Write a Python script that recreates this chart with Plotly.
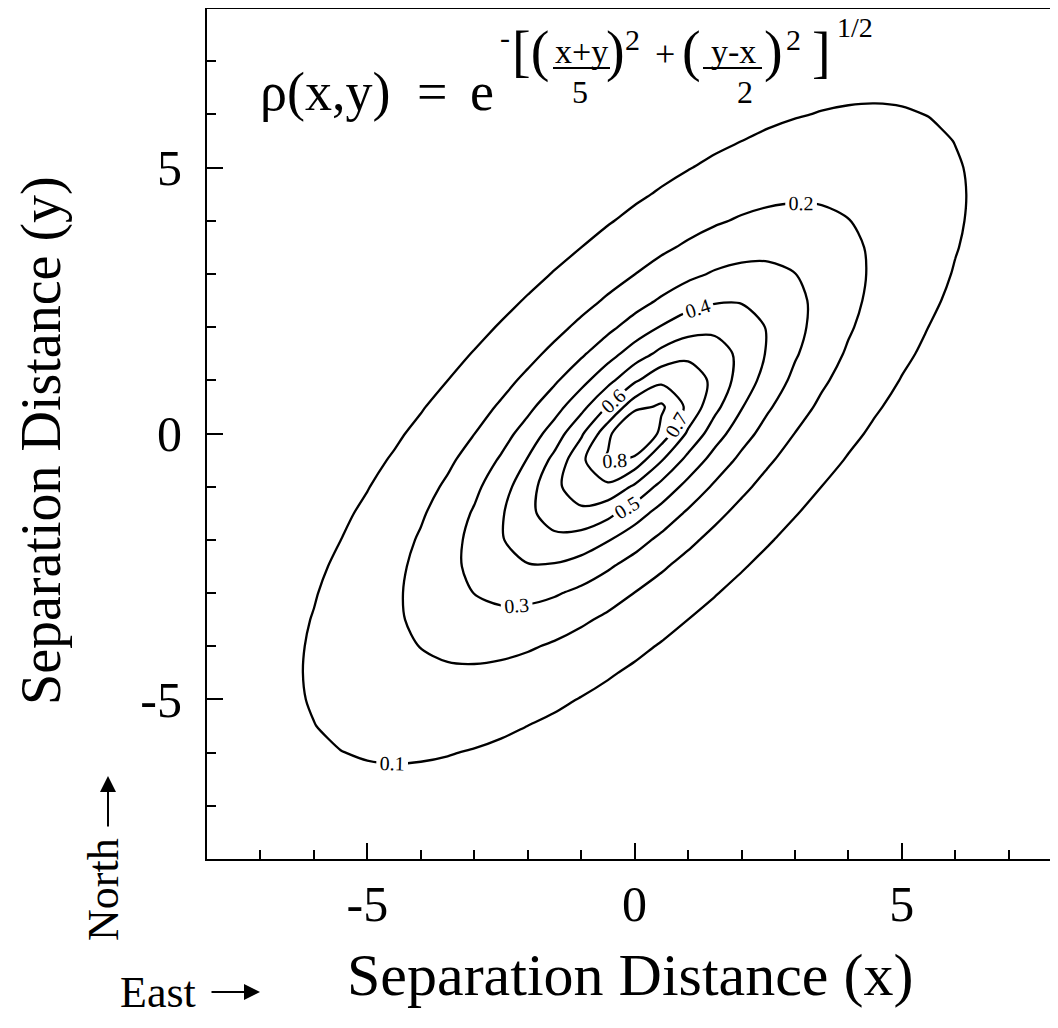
import numpy as np
import plotly.graph_objects as go

# ---- data ----
# grid of separation distances (x and y, same sampling)
grid_x = [-8.0, -7.5, -7.0, -6.5, -6.0, -5.5, -5.0, -4.5, -4.0, -3.5, -3.0, -2.5, -2.0, -1.5,
          -1.0, -0.5, 0.0, 0.5, 1.0, 1.5, 2.0, 2.5, 3.0, 3.5, 4.0, 4.5, 5.0, 5.5, 6.0, 6.5,
          7.0, 7.5, 8.0]
grid_y = list(grid_x)
# correlation length scales printed in the formula: ((x+y)/5)^2 + ((y-x)/2)^2
scale_along = [5.0]
scale_across = [2.0]
# contour levels labelled in the chart
contour_levels = [0.1, 0.2, 0.3, 0.4, 0.5, 0.6, 0.7, 0.8]
# tick labels
tick_vals = [-5, 0, 5]
tick_text = ["-5", "0", "5"]

X, Y = np.meshgrid(np.array(grid_x), np.array(grid_y))
Z = np.exp(-np.sqrt(((X + Y) / scale_along[0]) ** 2 + ((Y - X) / scale_across[0]) ** 2))

FONT = "Liberation Serif"
OFF = 8  # page body margin of the browser
W, H = 1058 - OFF, 1028 - OFF
ML, MR, MT, MB = 207 - OFF, 0, 8 - OFF, 169
PW, PH = W - ML - MR, H - MT - MB


def P(xs, ys):
    """screen pixel -> paper coords"""
    xp, yp = xs - OFF, ys - OFF
    return (xp - ML) / PW, (H - MB - yp) / PH


fig = go.Figure()
fig.add_trace(go.Contour(
    x=grid_x, y=grid_y, z=Z,
    contours=dict(start=contour_levels[0], end=contour_levels[-1],
                  size=round(contour_levels[1] - contour_levels[0], 3),
                  coloring="none", showlabels=True,
                  labelfont=dict(family=FONT, size=20, color="black"),
                  labelformat=".1f"),
    line=dict(color="black", width=2.3, smoothing=0.8),
    showscale=False, hoverinfo="skip",
))

axis_common = dict(
    tickmode="array", tickvals=tick_vals, ticktext=tick_text,
    ticks="inside", ticklen=16, tickwidth=2, tickcolor="black",
    showline=True, linecolor="black", linewidth=2,
    showgrid=False, zeroline=False,
    tickfont=dict(family=FONT, size=50, color="black"),
    minor=dict(tick0=0, dtick=1, ticks="inside", ticklen=9, tickwidth=1.5,
               tickcolor="black", showgrid=False),
)

fig.update_layout(
    width=W, height=H,
    margin=dict(l=ML, r=MR, t=MT, b=MB),
    plot_bgcolor="white", paper_bgcolor="white",
    showlegend=False,
    xaxis=dict(range=[-8, -8 + PW / 53.45], ticklabelstandoff=0, **axis_common),
    yaxis=dict(range=[-8, 8], ticklabelstandoff=13, **axis_common),
)

# top frame line
fig.add_shape(type="line", xref="paper", yref="paper", x0=0, x1=1, y0=1, y1=1,
              line=dict(color="black", width=2))

anns = []


def txt(s, xs, ys, size, xanchor="center", yanchor="middle", angle=0):
    x, y = P(xs, ys)
    anns.append(dict(text=s, x=x, y=y, xref="paper", yref="paper", showarrow=False,
                     xanchor=xanchor, yanchor=yanchor, textangle=angle,
                     font=dict(family=FONT, size=size, color="black")))


def arrow(x_head, y_head, x_tail, y_tail):
    x, y = P(x_head, y_head)
    anns.append(dict(text="", x=x, y=y, xref="paper", yref="paper", showarrow=True,
                     ax=x_tail - x_head, ay=y_tail - y_head, axref="pixel", ayref="pixel",
                     arrowhead=2, arrowsize=1.6, arrowwidth=2, arrowcolor="black",
                     standoff=0, startstandoff=0))


# formula
txt("ρ(x,y)", 258, 92, 54, xanchor="left")
txt("=", 432, 92, 54)
txt("e", 482, 92, 54)
txt("-", 505, 37, 30)
txt("[(", 530, 52, 56)
txt("x+y", 581, 51, 34)
txt("5", 580, 92, 32)
txt(")", 615, 52, 56)
txt("2", 632, 40, 30)
txt("+", 665, 54, 36)
txt("(", 691, 52, 56)
txt("y-x", 733, 51, 34)
txt("2", 745, 92, 32)
txt(")", 773, 52, 56)
txt("2", 793, 40, 30)
txt("]", 821, 52, 56)
txt("1/2", 855, 27, 28)

for (a, b) in [(553, 610), (703, 762)]:
    x0, y0 = P(a, 68)
    x1, _ = P(b, 68)
    fig.add_shape(type="line", xref="paper", yref="paper", x0=x0, x1=x1, y0=y0, y1=y0,
                  line=dict(color="black", width=2))

# axis titles and direction labels
txt("Separation Distance (x)", 630, 975, 60)
txt("Separation Distance (y)", 41, 441, 56, angle=-90)
txt("East", 118, 992, 44, xanchor="left")
arrow(260, 992, 210, 992)
txt("North", 103, 890, 44, angle=-90)
arrow(108, 776, 108, 828)

fig.update_layout(annotations=anns)
fig.write_html("out.html")
